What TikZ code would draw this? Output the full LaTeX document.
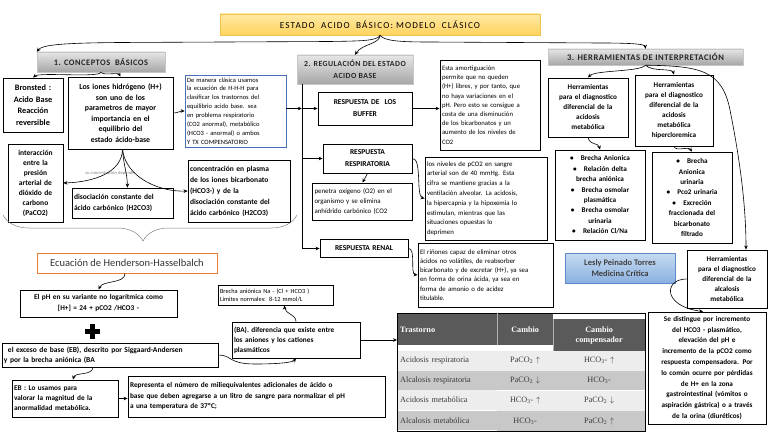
\documentclass[tikz,border=0pt]{standalone}
\usepackage{fontspec}
\setmainfont{Carlito}
\newfontfamily\tabfont{Liberation Serif}
\usepackage{tikz}
\usetikzlibrary{arrows.meta,positioning,matrix,decorations.pathreplacing}
\definecolor{titleyellow}{HTML}{FFD35C}
\definecolor{titlelight}{HTML}{FFE9A6}
\definecolor{titleedge}{HTML}{F0C24E}
\definecolor{headlight}{HTML}{E6E6E6}
\definecolor{headdark}{HTML}{A6A6A6}
\definecolor{noteblue}{HTML}{4A6FB5}
\definecolor{hhorange}{HTML}{ED7D31}
\definecolor{signlight}{HTML}{C6DBF1}
\definecolor{signdark}{HTML}{8AB0E0}
\definecolor{signedge}{HTML}{5B8BC9}
\definecolor{tabhead}{HTML}{5A5A5A}
\definecolor{tablight}{HTML}{EDEDED}
\definecolor{tabdark}{HTML}{C8C8C8}
\definecolor{tabtext}{HTML}{3A3A3A}
\newcommand{\fsz}[2]{\fontsize{#1}{#2}\selectfont}

\begin{document}
\begin{tikzpicture}[x=1pt,y=-1pt,
  box/.style={draw,line width=0.9pt,fill=white,inner sep=2pt,align=center,font=\fsz{7.4}{10.5}\bfseries},
  note/.style={box,align=left,font=\fsz{6.7}{9.2}},
  head/.style={draw=gray!45,top color=headlight,bottom color=headdark,inner sep=2pt,align=center,text=black!85,font=\fsz{8.4}{10}\bfseries\addfontfeature{LetterSpace=6}},
  arr/.style={-{Stealth[length=4pt,width=3.6pt]},line width=0.6pt}]
\useasboundingbox (0,0) rectangle (768,433);
% title and the three headings
\node[draw=titleedge,top color=titlelight,bottom color=titleyellow,minimum width=320pt,minimum height=21pt,font=\fsz{9.2}{10}\addfontfeature{LetterSpace=12}] (title) at (380,24.5) {ESTADO\ \ ACIDO\ \ BÁSICO:\ MODELO\ \ CLÁSICO};
\node[head,minimum width=128pt,minimum height=20pt] (h1) at (101,62) {1. CONCEPTOS\ \ BÁSICOS};
\node[head,minimum width=116pt,minimum height=29pt,font=\fsz{7.8}{12.5}\bfseries\addfontfeature{LetterSpace=6}] (h2) at (355,69.5) {2. REGULACIÓN DEL ESTADO\\ ACIDO BASE};
\node[head,minimum width=195pt,minimum height=16pt,font=\fsz{8.6}{10}\bfseries\addfontfeature{LetterSpace=6}] (h3) at (645.5,57) {3. HERRAMIENTAS DE INTERPRETACIÓN};
\draw[arr] (title.south) .. controls (378,41) and (360,41) .. (330,41.5) -- (120,42.5) .. controls (60,43) and (42,45) .. (h1.north west);
\draw[arr] (title.south) .. controls (380,44) and (362,44) .. (h2.north);
\draw[arr] (title.south) .. controls (384,41) and (400,42) .. (430,42) -- (600,43) .. controls (630,43) and (645,44) .. (h3.north);

% 1. conceptos
\node[box,text width=56pt,minimum height=54pt,font=\fsz{8.3}{11.7}\bfseries] (c1) at (33,105) {Bronsted :\\ Acido Base\\ Reacción\\ reversible};
\node[box,text width=101pt,minimum height=72pt,font=\fsz{7.8}{10.5}\bfseries] (c2) at (120.5,113) {Los iones hidrógeno (H+)\\ son uno de los\\ parametros de mayor\\ importancia en el\\ equilibrio del\\ estado ácido-base};
\node[note,draw=noteblue,line width=0.7pt,text width=97pt,minimum height=72pt,font=\fsz{6.5}{8.9}] (c3) at (235.5,111) {De manera clásica usamos\\ la ecuación de H-H-H para\\ clasificar los trastornos del\\ equilibrio acido base. sea\\ en problema respiratorio\\ (CO2 anormal), metabólico\\ (HCO3 - anormal) o ambos\\ Y TX COMPENSATORIO};
\node[box,text width=51pt,minimum height=78pt,font=\fsz{7.5}{10}\bfseries] (c4) at (35.5,183) {interacción\\ entre la\\ presión\\ arterial de\\ dióxido de\\ carbono\\ (PaCO2)};
\node[box,align=left,text width=97pt,minimum height=30pt,font=\fsz{7.5}{11}\bfseries] (c5) at (122.5,203) {disociación constante del\\ ácido carbónico (H2CO3)};
\node[box,align=left,text width=98pt,minimum height=62pt,font=\fsz{7.5}{11}\bfseries] (c6) at (239,191) {concentración en plasma\\ de los iones bicarbonato\\ (HCO3-) y de la\\ disociación constante del\\ ácido carbónico (H2CO3)};
\node[font=\fsz{4.6}{5},text=gray] (lbl) at (110,173) {su concentración depende};
\draw[arr] (h1.south) .. controls (100,78) and (40,72) .. (c1.north);
\draw[arr] (h1.south) .. controls (104,76) and (118,72) .. (c2.north);
\draw[arr] (c2.east) .. controls (179,113) and (178,111) .. (c3.west);
\draw[arr] ([xshift=2pt]c2.south) .. controls (122,172) and (95,182) .. (c4.east);
\draw[arr] ([xshift=2pt]c2.south) .. controls (124,168) and (127,172) .. ([xshift=5pt]c5.north);
\draw[arr] ([xshift=2pt]c2.south) .. controls (126,178) and (160,192) .. (c6.west);
\draw[gray,line width=0.5pt,decorate,decoration={brace,mirror,amplitude=26pt,aspect=0.476}] (3,215) -- (297,215);

\node[box,draw=hhorange,line width=0.8pt,minimum width=180pt,minimum height=20pt,text=black!80,font=\fsz{10.5}{12}] (c7) at (127,263) {Ecuación de Henderson-Hasselbalch};
\node[box,text width=153pt,minimum height=27pt,font=\fsz{7.3}{11}\bfseries] (c8) at (98.5,303.5) {El pH en su variante no logarítmica como\\{}[H+] = 24 + pCO2 /HCO3 -};
\fill (85,329) rectangle (100,334);
\fill (90,324) rectangle (95,339);
\node[box,align=left,text width=212pt,minimum height=24pt,font=\fsz{7.5}{10}\bfseries] (c9) at (110,355) {\hspace*{4pt}el exceso de base (EB), descrito por Siggaard-Andersen\\ y por la brecha aniónica (BA};
\node[box,align=left,text width=102pt,minimum height=37pt,font=\fsz{7.3}{10}\bfseries] (c10) at (65,398.5) {EB : Lo usamos para\\ valorar la magnitud de la\\ anormalidad metabólica.};
\node[box,align=left,text width=253pt,minimum height=41pt,font=\fsz{7.3}{10.5}\bfseries] (c11) at (256.5,396.5) {Representa el número de miliequivalentes adicionales de ácido o\\ base que deben agregarse a un litro de sangre para normalizar el pH\\ a una temperatura de 37ºC;};
\node[box,align=left,text width=124pt,minimum height=36pt,font=\fsz{7.3}{10}\bfseries] (c12) at (296,340) {(BA). diferencia que existe entre\\ los aniones y los cationes\\ plasmáticos};
\node[note,text width=111pt,minimum height=20pt,font=\fsz{6.3}{8.3}] (c13) at (275.5,295) {Brecha aniónica Na - (Cl + HCO3 )\\ Límites normales: 8-12 mmol/L};
\draw[arr] ([xshift=-2pt]c7.south) .. controls (125,284) and (103,280) .. (c8.north);
\draw[arr] ([xshift=-17pt]c9.south) .. controls (92,376) and (75,372) .. ([xshift=8pt]c10.north);
\draw[arr] (c10.east) -- (c10.east -| c11.west);
\draw[arr] (c9.east) .. controls (232,355) and (228,364) .. (255,364) .. controls (282,364) and (293,362) .. (c12.south);
\draw[arr] (c12.north) .. controls (296,314) and (285,314) .. ([xshift=9pt]c13.south);

% 2. regulacion
\node[box,text width=90pt,minimum height=33pt,font=\fsz{7.5}{12}\bfseries] (r1) at (365,108.5) {RESPUESTA DE\ \ LOS\\ BUFFER};
\node[note,text width=96pt,minimum height=90pt] (r2) at (490,105) {Esta amortiguación\\ permite que no queden\\ (H+) libres, y por tanto, que\\ no haya variaciones en el\\ pH. Pero esto se consigue a\\ costa de una disminución\\ de los bicarbonatos y un\\ aumento de los niveles de\\ CO2};
\node[box,text width=85pt,minimum height=29pt,font=\fsz{7.5}{12}\bfseries] (r3) at (367.5,158.5) {RESPUESTA\\ RESPIRATORIA};
\node[note,text width=96pt,minimum height=37pt,font=\fsz{6.9}{10}] (r4) at (362.5,201.5) {penetra oxígeno (O2) en el\\ organismo y se elimina\\ anhídrido carbónico (CO2};
\node[note,text width=118pt,minimum height=83pt,font=\fsz{6.8}{9.8}] (r5) at (486,198.5) {los niveles de pCO2 en sangre\\ arterial son de 40 mmHg. Esta\\ cifra se mantiene gracias a la\\ ventilación alveolar. La acidosis,\\ la hipercapnia y la hipoxemia lo\\ estimulan, mientras que las\\ situaciones opuestas lo\\ deprimen};
\node[box,text width=84pt,minimum height=18pt,font=\fsz{7.5}{10}\bfseries] (r6) at (364,248.5) {RESPUESTA RENAL};
\node[note,text width=131pt,minimum height=64pt,font=\fsz{6.8}{9.3}] (r7) at (485.5,275) {El riñones capaz de eliminar otros\\ ácidos no volátiles, de reabsorber\\ bicarbonato y de excretar (H+), ya sea\\ en forma de orina ácida, ya sea en\\ forma de amonio o de acidez\\ titulable.};
\coordinate (sp) at ([xshift=5pt]h2.south west);
\draw[arr] (sp) |- (r6.west);
\draw[arr] (sp |- r1.west) -- (r1.west);
\draw[arr] (sp |- r3.west) -- (r3.west);
\draw[arr] (c3.east |- r1.west) -- (sp |- r1.west);
\draw[arr] (r1.east) -- (r1.east -| r2.west);
\draw[arr] (r3.east) .. controls (422,158) and (416,196) .. (r5.west);
\draw[arr] (r3.south) -- (r4.north);
\draw[arr] (r6.east) .. controls (416,248) and (410,274) .. (r7.west);

% tabla
\matrix (r8) [matrix of nodes,anchor=north west,inner sep=0pt,column sep=0pt,row sep=0pt,
  nodes={inner xsep=3pt,inner ysep=0pt,minimum height=19.5pt,text=tabtext,font=\tabfont\fsz{8.2}{10}},
  column 1/.style={nodes={text width=94pt,align=left}},
  column 2/.style={nodes={text width=50pt,align=center}},
  column 3/.style={nodes={text width=86pt,align=center}},
  row 1/.style={nodes={fill=tabhead,text=white,minimum height=32pt,font=\tabfont\fsz{8.2}{10}\bfseries}},
  row 2/.style={nodes={fill=tablight}},
  row 3/.style={nodes={fill=tabdark}},
  row 4/.style={nodes={fill=tablight}},
  row 5/.style={nodes={fill=tabdark}}] at (397,313) {
  Trastorno & Cambio & {Cambio\\ compensador} \\
  Acidosis respiratoria & PaCO\textsubscript{2} $\uparrow$ & HCO\textsubscript{3}- $\uparrow$ \\
  Alcalosis respiratoria & PaCO\textsubscript{2} $\downarrow$ & HCO\textsubscript{3}- \\
  Acidosis metabólica & HCO\textsubscript{3}- $\uparrow$ & PaCO\textsubscript{2} $\downarrow$ \\
  Alcalosis metabólica & HCO\textsubscript{3}- & PaCO\textsubscript{2} $\uparrow$ \\
};
\draw[line width=0.9pt] (r8.north west) rectangle (r8.south east);
\draw[gray!60] (r8-1-2.north west) -- (r8-1-2.south west) (r8-1-3.north west) -- (r8-1-3.south west);
\draw[arr] (c12.east) -- (c12.east -| r8.west);

% 3. herramientas
\node[box,text width=76pt,minimum height=59pt,font=\fsz{7.2}{10}\bfseries] (d1) at (588,107.5) {Herramientas\\ para el diagnostico\\ diferencial de la\\ acidosis\\ metabólica};
\node[box,text width=74pt,minimum height=71pt,font=\fsz{7.2}{10}\bfseries] (d2) at (674,110.5) {Herramientas\\ para el diagnostico\\ diferencial de la\\ acidosis\\ metabólica\\ hipercloremica};
\node[box,text width=86pt,minimum height=90pt,font=\fsz{7.2}{10.4}\bfseries] (d3) at (600,195) {\textbullet\quad Brecha Anionica\\ \textbullet\quad Relación delta\\ brecha aniónica\\ \textbullet\quad Brecha osmolar\\ plasmática\\ \textbullet\quad Brecha osmolar\\ urinaria\\ \textbullet\quad Relación Cl/Na};
\node[box,text width=76pt,minimum height=91pt,font=\fsz{7.2}{10.4}\bfseries] (d4) at (692,197.5) {\textbullet\quad Brecha\\ Anionica\\ urinaria\\ \textbullet\quad Pco2 urinaria\\ \textbullet\quad Excreción\\ fraccionada del\\ bicarbonato\\ filtrado};
\node[draw=signedge,line width=0.6pt,top color=signlight,bottom color=signdark,minimum width=110pt,minimum height=30pt,align=center,text=black!75,font=\fsz{8.5}{11}\bfseries] (d5) at (620,268) {Lesly Peinado Torres\\ Medicina Crítica};
\node[box,text width=76pt,minimum height=58pt,font=\fsz{7.2}{10}\bfseries] (d6) at (727,279) {Herramientas\\ para el diagnostico\\ diferencial de la\\ alcalosis\\ metabólica};
\node[box,text width=114pt,minimum height=112pt,font=\fsz{7.2}{10.8}\bfseries] (d7) at (707,368) {Se distingue por incremento\\ del HCO3 - plasmático,\\ elevación del pH e\\ incremento de la pCO2 como\\ respuesta compensadora. Por\\ lo común ocurre por pérdidas\\ de H+ en la zona\\ gastrointestinal (vómitos o\\ aspiración gástrica) o a través\\ de la orina (diuréticos)};
\draw[arr] (h3.south) .. controls (640,72) and (595,70) .. (d1.north);
\draw[arr] (h3.south) .. controls (652,72) and (672,68) .. (d2.north);
\draw[arr] (h3.south) .. controls (700,66) and (722,70) .. (730,110) .. controls (738,150) and (746,200) .. ([xshift=19pt]d6.north);
\draw[arr] (d1.south) .. controls (590,146) and (598,142) .. (d3.north);
\draw[arr] (d2.south) .. controls (676,152) and (688,146) .. (d4.north);
\draw[arr] (d6.west) .. controls (664,279) and (662,306) .. ([xshift=-4pt]d7.north);
\end{tikzpicture}
\end{document}
